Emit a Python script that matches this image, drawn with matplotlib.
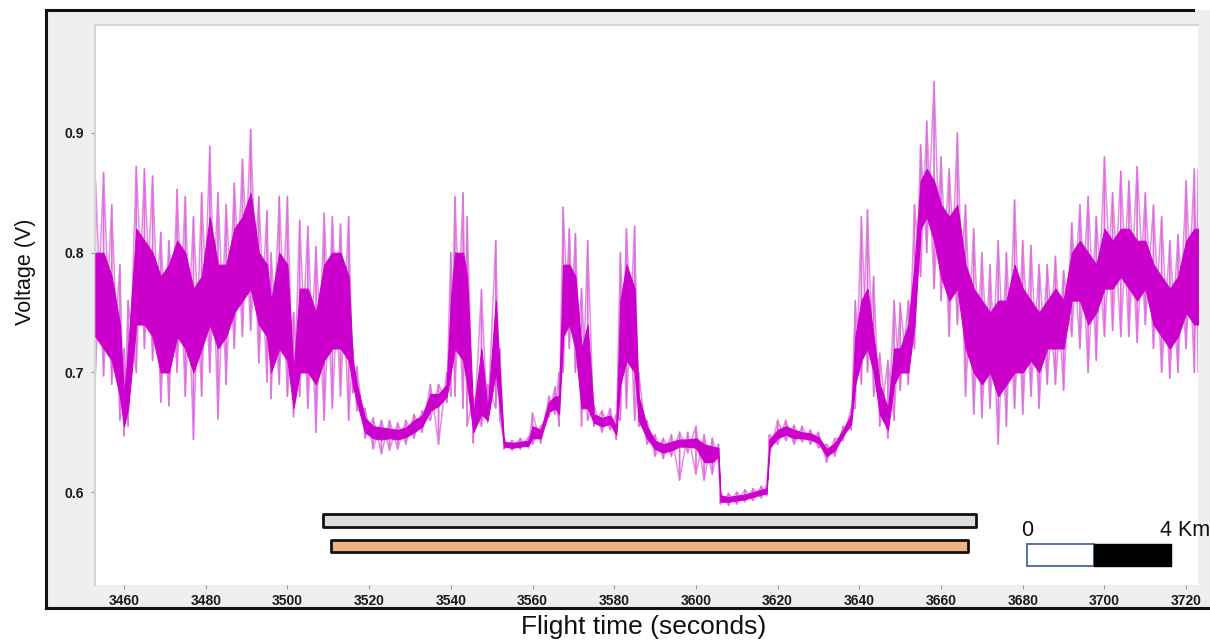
"""
Flight voltage trace with survey bars and scale bar
"""
import matplotlib
matplotlib.use("Agg")
import matplotlib.pyplot as plt
from matplotlib.patches import Rectangle
from matplotlib.lines import Line2D

plt.rcParams.update({
    "font.family": ["Liberation Sans", "DejaVu Sans"],
    "figure.dpi": 100,
})

# ---- signal (seconds, volts) ----
time_s = [3453, 3455, 3457, 3459, 3460, 3461, 3463, 3465, 3467, 3469,
          3471, 3473, 3475, 3477, 3479, 3481, 3483, 3485, 3487, 3489,
          3491, 3493, 3495, 3496, 3498, 3500, 3501.5, 3503, 3505, 3507,
          3509, 3511, 3513, 3515, 3516, 3517, 3519, 3521, 3523, 3525,
          3527, 3529, 3531, 3533, 3535, 3537, 3539, 3540, 3541, 3543,
          3544, 3545.5, 3547.5, 3549, 3551, 3552, 3553, 3555, 3557, 3559,
          3560, 3562, 3564, 3565.5, 3566.5, 3567.5, 3569, 3570.5, 3572, 3573.5,
          3575, 3577, 3579, 3580.5, 3581.5, 3583, 3585, 3586, 3588, 3590,
          3592, 3594, 3596, 3598, 3600, 3602, 3604, 3605.5, 3606, 3608,
          3610, 3612, 3614, 3616, 3617.3, 3618, 3620, 3622, 3624, 3626,
          3628, 3630, 3632, 3634, 3636, 3638, 3639, 3640.5, 3642, 3643.5,
          3645, 3647, 3648.5, 3650, 3652, 3653.5, 3655, 3656.5, 3658.3, 3660,
          3662, 3664, 3666, 3668, 3670, 3672, 3674, 3676, 3678, 3680,
          3682, 3684, 3686, 3688, 3690, 3692, 3694, 3696, 3698, 3700,
          3702, 3704, 3706, 3708, 3710, 3712, 3714, 3716, 3718, 3720,
          3722, 3723]
spike_hi = [0.86, 0.867, 0.84, 0.79, 0.72, 0.76, 0.872, 0.87, 0.864, 0.817,
            0.81, 0.853, 0.847, 0.83, 0.85, 0.889, 0.85, 0.84, 0.858, 0.878,
            0.903, 0.847, 0.835, 0.80, 0.847, 0.847, 0.75, 0.827, 0.822, 0.805,
            0.833, 0.83, 0.824, 0.83, 0.72, 0.705, 0.67, 0.662, 0.66, 0.66,
            0.658, 0.66, 0.665, 0.668, 0.69, 0.69, 0.70, 0.80, 0.847, 0.85,
            0.83, 0.68, 0.769, 0.69, 0.81, 0.72, 0.645, 0.643, 0.645, 0.646,
            0.666, 0.655, 0.68, 0.688, 0.70, 0.838, 0.82, 0.816, 0.77, 0.81,
            0.673, 0.668, 0.67, 0.665, 0.80, 0.82, 0.822, 0.70, 0.66, 0.648,
            0.645, 0.648, 0.65, 0.65, 0.655, 0.648, 0.645, 0.64, 0.60, 0.599,
            0.60, 0.602, 0.603, 0.605, 0.606, 0.648, 0.66, 0.66, 0.656, 0.655,
            0.652, 0.65, 0.64, 0.645, 0.655, 0.67, 0.76, 0.83, 0.836, 0.78,
            0.716, 0.71, 0.76, 0.758, 0.76, 0.84, 0.89, 0.91, 0.943, 0.88,
            0.87, 0.90, 0.84, 0.82, 0.80, 0.79, 0.81, 0.80, 0.844, 0.81,
            0.806, 0.79, 0.79, 0.797, 0.785, 0.825, 0.84, 0.847, 0.83, 0.88,
            0.85, 0.868, 0.86, 0.872, 0.85, 0.84, 0.83, 0.81, 0.815, 0.86,
            0.87, 0.87]
spike_lo = [0.70, 0.697, 0.69, 0.66, 0.647, 0.655, 0.70, 0.72, 0.71, 0.675,
            0.672, 0.70, 0.68, 0.644, 0.68, 0.70, 0.661, 0.69, 0.72, 0.73,
            0.735, 0.708, 0.692, 0.678, 0.69, 0.68, 0.663, 0.68, 0.67, 0.65,
            0.66, 0.67, 0.68, 0.66, 0.683, 0.668, 0.645, 0.636, 0.632, 0.635,
            0.636, 0.64, 0.645, 0.65, 0.66, 0.64, 0.675, 0.68, 0.68, 0.67,
            0.655, 0.641, 0.655, 0.658, 0.67, 0.66, 0.636, 0.635, 0.636, 0.637,
            0.64, 0.641, 0.663, 0.665, 0.655, 0.70, 0.72, 0.70, 0.655, 0.66,
            0.655, 0.65, 0.652, 0.644, 0.66, 0.67, 0.66, 0.655, 0.64, 0.63,
            0.628, 0.63, 0.61, 0.633, 0.615, 0.61, 0.615, 0.625, 0.59, 0.589,
            0.59, 0.592, 0.593, 0.595, 0.597, 0.63, 0.64, 0.643, 0.64, 0.642,
            0.64, 0.637, 0.625, 0.63, 0.643, 0.652, 0.67, 0.69, 0.70, 0.68,
            0.655, 0.645, 0.66, 0.685, 0.69, 0.72, 0.78, 0.80, 0.77, 0.76,
            0.73, 0.74, 0.68, 0.665, 0.662, 0.67, 0.64, 0.655, 0.67, 0.665,
            0.68, 0.67, 0.69, 0.69, 0.685, 0.73, 0.72, 0.70, 0.71, 0.73,
            0.735, 0.73, 0.73, 0.725, 0.74, 0.72, 0.70, 0.695, 0.70, 0.72,
            0.70, 0.70]
core_hi = [0.80, 0.80, 0.78, 0.74, 0.68, 0.72, 0.82, 0.81, 0.80, 0.78,
           0.79, 0.81, 0.80, 0.77, 0.78, 0.83, 0.79, 0.79, 0.82, 0.83,
           0.85, 0.80, 0.79, 0.76, 0.80, 0.79, 0.70, 0.77, 0.77, 0.75,
           0.79, 0.80, 0.80, 0.78, 0.71, 0.69, 0.662, 0.655, 0.654, 0.653,
           0.652, 0.654, 0.66, 0.664, 0.682, 0.682, 0.69, 0.76, 0.80, 0.80,
           0.78, 0.665, 0.72, 0.668, 0.76, 0.70, 0.642, 0.641, 0.642, 0.643,
           0.655, 0.652, 0.675, 0.68, 0.68, 0.79, 0.79, 0.78, 0.72, 0.74,
           0.665, 0.662, 0.664, 0.655, 0.76, 0.79, 0.77, 0.68, 0.655, 0.643,
           0.64, 0.642, 0.644, 0.644, 0.645, 0.64, 0.638, 0.637, 0.597, 0.596,
           0.597, 0.598, 0.60, 0.602, 0.603, 0.644, 0.652, 0.655, 0.652, 0.65,
           0.649, 0.646, 0.636, 0.641, 0.652, 0.665, 0.73, 0.76, 0.77, 0.73,
           0.69, 0.67, 0.72, 0.72, 0.74, 0.79, 0.86, 0.87, 0.86, 0.84,
           0.83, 0.84, 0.79, 0.77, 0.76, 0.75, 0.76, 0.76, 0.79, 0.77,
           0.76, 0.75, 0.76, 0.77, 0.76, 0.80, 0.81, 0.80, 0.79, 0.82,
           0.81, 0.82, 0.82, 0.81, 0.81, 0.79, 0.78, 0.77, 0.78, 0.81,
           0.82, 0.82]
core_lo = [0.73, 0.72, 0.71, 0.68, 0.655, 0.67, 0.74, 0.74, 0.73, 0.70,
           0.70, 0.73, 0.72, 0.70, 0.72, 0.74, 0.72, 0.73, 0.75, 0.76,
           0.77, 0.74, 0.73, 0.70, 0.72, 0.71, 0.67, 0.70, 0.70, 0.69,
           0.71, 0.72, 0.72, 0.71, 0.69, 0.675, 0.65, 0.645, 0.644, 0.645,
           0.644, 0.646, 0.65, 0.655, 0.668, 0.672, 0.68, 0.70, 0.72, 0.71,
           0.69, 0.65, 0.665, 0.66, 0.70, 0.67, 0.638, 0.637, 0.638, 0.639,
           0.645, 0.645, 0.667, 0.67, 0.665, 0.73, 0.74, 0.72, 0.67, 0.67,
           0.658, 0.655, 0.657, 0.648, 0.69, 0.71, 0.70, 0.66, 0.645, 0.636,
           0.633, 0.635, 0.638, 0.638, 0.637, 0.625, 0.625, 0.63, 0.592, 0.592,
           0.593, 0.594, 0.596, 0.598, 0.599, 0.637, 0.645, 0.648, 0.645, 0.645,
           0.644, 0.641, 0.63, 0.635, 0.647, 0.657, 0.69, 0.71, 0.72, 0.70,
           0.665, 0.652, 0.69, 0.70, 0.70, 0.74, 0.82, 0.83, 0.81, 0.78,
           0.76, 0.77, 0.72, 0.70, 0.69, 0.70, 0.68, 0.69, 0.70, 0.70,
           0.71, 0.70, 0.72, 0.72, 0.72, 0.76, 0.76, 0.74, 0.75, 0.77,
           0.77, 0.78, 0.77, 0.76, 0.77, 0.74, 0.73, 0.72, 0.73, 0.75,
           0.74, 0.74]

# ---- bars under the trace (start, end in seconds; centre volts) ----
bar_start = [3508.7, 3510.7]
bar_end = [3668.6, 3666.6]
bar_level = [0.5762, 0.5550]
bar_colors = ["#DCDCDC", "#F0B283"]

# ---- scale bar ----
scale_edges = [3681.0, 3697.5, 3716.3]
scale_labels = ["0", "4 Km"]

MAGENTA = "#CC00CC"
SPIKE = "#DB66DB"

fig = plt.figure(figsize=(12.1, 6.43), dpi=100)

# grey panel with the black frame lines
fig.patches.append(Rectangle((46 / 1210, 1 - 608 / 643), 1 - 46 / 1210, (608 - 10) / 643,
                             transform=fig.transFigure, facecolor="#EFEFEF",
                             edgecolor="none", zorder=-10))
for xs, ys in [((46, 46), (10, 608)), ((46, 1193), (10, 10)), ((46, 1210), (608, 608))]:
    fig.lines.append(Line2D([x / 1210 for x in xs], [1 - y / 643 for y in ys],
                            transform=fig.transFigure, color="#111111", lw=2.2, zorder=5))

ax = fig.add_axes([95 / 1210, 1 - 585 / 643, 1103 / 1210, 560 / 643])
ax.set_facecolor("white")
ax.set_xlim(3452.9, 3722.9)
ax.set_ylim(0.5224, 0.9902)

# spikes: two crossed zig-zags through the read extremes
up_x, up_y, dn_x, dn_y = [], [], [], []
for t, h, l in zip(time_s, spike_hi, spike_lo):
    up_x += [t, t]
    up_y += [h, l]
    dn_x += [t, t]
    dn_y += [l, h]
ax.plot(up_x, up_y, color=SPIKE, lw=1.1, alpha=0.75, zorder=2)
ax.plot(dn_x, dn_y, color=SPIKE, lw=1.1, alpha=0.75, zorder=2)

# dense core band
ax.fill_between(time_s, core_lo, core_hi, color=MAGENTA, lw=0.8,
                edgecolor=MAGENTA, zorder=3)

# survey bars
bar_h = 0.0105
for s, e, lv, c in zip(bar_start, bar_end, bar_level, bar_colors):
    ax.add_patch(Rectangle((s, lv - bar_h / 2), e - s, bar_h, facecolor=c,
                           edgecolor="#111111", lw=2, joinstyle="round", zorder=4))

# scale bar
sb_lo, sb_hi = 0.5383, 0.5566
ax.add_patch(Rectangle((scale_edges[0], sb_lo), scale_edges[1] - scale_edges[0], sb_hi - sb_lo,
                       facecolor="white", edgecolor="#44679A", lw=1.3, zorder=4))
ax.add_patch(Rectangle((scale_edges[1], sb_lo), scale_edges[2] - scale_edges[1], sb_hi - sb_lo,
                       facecolor="black", edgecolor="black", lw=1, zorder=4))
ax.text(scale_edges[0], 0.5595, scale_labels[0], ha="center", va="bottom",
        fontsize=15.5, color="#111111", zorder=5)
ax.text(3713.6, 0.5595, scale_labels[1], ha="left", va="bottom",
        fontsize=15.5, color="#111111", zorder=5, clip_on=False)

# axes styling
ax.set_xticks(range(3460, 3721, 20))
ax.set_yticks([0.6, 0.7, 0.8, 0.9])
ax.set_yticklabels(["0.6", "0.7", "0.8", "0.9"])
ax.tick_params(axis="both", length=3, width=0.8, color="#999999",
               labelsize=10, labelcolor="#1A1A1A")
ax.tick_params(axis="x", pad=3.5)
ax.tick_params(axis="y", pad=5)
for lab in ax.get_xticklabels() + ax.get_yticklabels():
    lab.set_fontweight("bold")
for side in ["right", "bottom"]:
    ax.spines[side].set_visible(False)
for side in ["left", "top"]:
    ax.spines[side].set_color("#D4D4D4")
    ax.spines[side].set_linewidth(1.5)

fig.text(644 / 1210, 1 - 627 / 643, "Flight time (seconds)", ha="center", va="center",
         fontsize=19, color="#111111")
fig.text(25 / 1210, 1 - 272 / 643, "Voltage (V)", ha="center", va="center",
         rotation=90, fontsize=15.5, color="#111111")

fig.savefig("out.png", dpi=100)
plt.close(fig)
